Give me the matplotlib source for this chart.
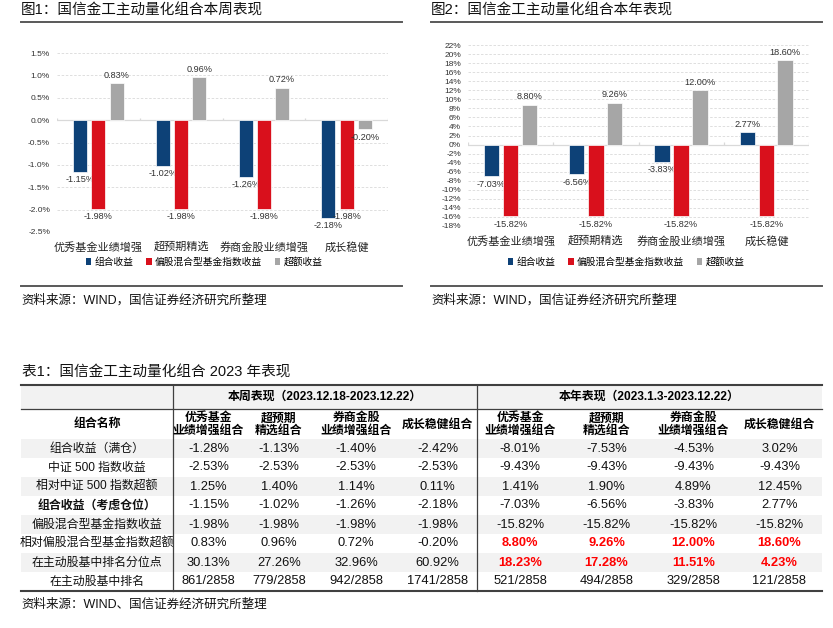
import numpy as np
import matplotlib
matplotlib.use("Agg")
import matplotlib.pyplot as plt
from matplotlib.patches import Patch, Rectangle
from matplotlib.lines import Line2D

plt.rcParams['font.family'] = ['Liberation Sans', 'Noto Sans CJK SC', 'DejaVu Sans']

# ---- data ----
cats = ['优秀基金业绩增强', '超预期精选', '券商金股业绩增强', '成长稳健']
series_names = ['组合收益', '偏股混合型基金指数收益', '超额收益']

week_port = [-1.15, -1.02, -1.26, -2.18]
week_index = [-1.98, -1.98, -1.98, -1.98]
week_excess = [0.83, 0.96, 0.72, -0.20]

year_port = [-7.03, -6.56, -3.83, 2.77]
year_index = [-15.82, -15.82, -15.82, -15.82]
year_excess = [8.80, 9.26, 12.00, 18.60]

row_names = ['组合收益（满仓）', '中证 500 指数收益', '相对中证 500 指数超额', '组合收益（考虑仓位）',
             '偏股混合型基金指数收益', '相对偏股混合型基金指数超额', '在主动股基中排名分位点', '在主动股基中排名']
col_names = ['优秀基金\n业绩增强组合', '超预期\n精选组合', '券商金股\n业绩增强组合', '成长稳健组合']

week_full = [-1.28, -1.13, -1.40, -2.42]
week_zz500 = [-2.53, -2.53, -2.53, -2.53]
week_rel500 = [1.25, 1.40, 1.14, 0.11]
week_pct = [30.13, 27.26, 32.96, 60.92]
week_rank = ['861/2858', '779/2858', '942/2858', '1741/2858']

year_full = [-8.01, -7.53, -4.53, 3.02]
year_zz500 = [-9.43, -9.43, -9.43, -9.43]
year_rel500 = [1.41, 1.90, 4.89, 12.45]
year_pct = [18.23, 17.28, 11.51, 4.23]
year_rank = ['521/2858', '494/2858', '329/2858', '121/2858']

colors = ['#0d4177', '#d9101c', '#a6a6a6']
W, H = 833, 628


def fx(px):
    return px / W


def fy(py):
    return 1 - py / H


fig = plt.figure(figsize=(8.33, 6.28), dpi=100)


def bar_chart(rect, ser, ylim, step, fmt, width, offs, legend_x):
    l, t, r, b = rect
    ax = fig.add_axes([fx(l), fy(b), fx(r) - fx(l), fy(t) - fy(b)])
    x = np.arange(len(cats))
    for vals, c, off, nm in zip(ser, colors, offs, series_names):
        bars = ax.bar(x + off, vals, width, color=c, edgecolor='white', linewidth=0.5, label=nm, zorder=3)
        ax.bar_label(bars, fmt='{:.2f}%', padding=2.5, fontsize=6.6, color='#333333')
    ax.set_xlim(-0.5, len(cats) - 0.5)
    ax.set_ylim(*ylim)
    ticks = np.arange(ylim[0], ylim[1] + step / 2, step)
    ax.set_yticks(ticks)
    ax.set_yticklabels([fmt.format(v) for v in ticks], fontsize=6, color='#333333')
    ax.set_xticks(x)
    ax.set_xticklabels(cats, fontsize=8, color='#222222')
    ax.tick_params(length=0)
    ax.tick_params(axis='y', pad=5)
    ax.tick_params(axis='x', pad=7)
    for s in ax.spines.values():
        s.set_visible(False)
    ax.grid(axis='y', linestyle=(0, (3, 2)), color='#d9d9d9', linewidth=0.6, zorder=0)
    ax.axhline(0, color='#d9d9d9', linewidth=0.9, zorder=2)
    tick_h = (ylim[1] - ylim[0]) * 0.012
    ax.vlines(np.arange(len(cats) + 1) - 0.5, 0, tick_h, color='#d9d9d9', linewidth=0.9, zorder=2)
    handles = [Patch(facecolor=c, edgecolor='none') for c in colors]
    fig.legend(handles, series_names, loc='center', bbox_to_anchor=(fx(legend_x), fy(262)),
               ncol=3, frameon=False, fontsize=7, handlelength=0.6, handleheight=0.6,
               handletextpad=0.3, columnspacing=1.3)
    return ax


ax1 = bar_chart((57, 53, 388, 232), [week_port, week_index, week_excess], (-2.5, 1.5), 0.5,
                '{:.1f}%', 0.17, (-0.22, 0.0, 0.22), 204)
ax2 = bar_chart((468, 45, 809, 226), [year_port, year_index, year_excess], (-18, 22), 2,
                '{:.0f}%', 0.18, (-0.224, 0.0, 0.22), 626)

# panel titles and rules
for x0, x1, title in [(21, 402, '图1：国信金工主动量化组合本周表现'), (431, 822, '图2：国信金工主动量化组合本年表现')]:
    fig.text(fx(x0), fy(11), title, fontsize=10.5, va='center', ha='left', color='#111111')
    fig.add_artist(Line2D([fx(x0), fx(x1)], [fy(22), fy(22)], color='#595959', linewidth=1.4))
    fig.add_artist(Line2D([fx(x0), fx(x1)], [fy(285.5), fy(285.5)], color='#595959', linewidth=1.4))
    fig.text(fx(x0), fy(300), '资料来源：WIND，国信证券经济研究所整理', fontsize=9, va='center', ha='left',
             color='#111111')

# ---- table ----
tab = fig.add_axes([0, 0, 1, 1])
tab.set_xlim(0, W)
tab.set_ylim(H, 0)
tab.axis('off')

t_left, t_mid1, t_mid2, t_right = 21, 173, 477, 822
t_top, h1_bot, h2_bot, row_h = 385, 409, 439, 19
week_edges = [173, 244, 314, 398, 477]
year_edges = [477, 563, 650, 737, 822]
shade = '#f2f2f2'

tab.text(22, 373, '表1：国信金工主动量化组合 2023 年表现', fontsize=10.5, va='center', ha='left', color='#111111')

tab.add_patch(Rectangle((t_left, t_top), t_right - t_left, h1_bot - t_top, facecolor=shade, edgecolor='none'))
for i in range(len(row_names)):
    if i % 2 == 0:
        tab.add_patch(Rectangle((t_left, h2_bot + i * row_h), t_right - t_left, row_h,
                                facecolor=shade, edgecolor='none'))

t_bot = h2_bot + len(row_names) * row_h
tab.plot([t_left, t_right], [t_top, t_top], color='#404040', linewidth=1.5)
tab.plot([t_left, t_right], [h1_bot, h1_bot], color='#404040', linewidth=0.9)
tab.plot([t_left, t_right], [t_bot, t_bot], color='#404040', linewidth=1.5)
for xv in (t_mid1, t_mid2):
    tab.plot([xv, xv], [t_top, t_bot], color='#404040', linewidth=0.9)

fs = 8.6
fs_num = 9.3
tab.text((t_mid1 + t_mid2) / 2, (t_top + h1_bot) / 2, '本周表现（2023.12.18-2023.12.22）',
         fontsize=fs, fontweight='bold', ha='center', va='center')
tab.text((t_mid2 + t_right) / 2, (t_top + h1_bot) / 2, '本年表现（2023.1.3-2023.12.22）',
         fontsize=fs, fontweight='bold', ha='center', va='center')
tab.text((t_left + t_mid1) / 2, (h1_bot + h2_bot) / 2, '组合名称', fontsize=fs, fontweight='bold',
         ha='center', va='center')
for edges in (week_edges, year_edges):
    for j, cn in enumerate(col_names):
        tab.text((edges[j] + edges[j + 1]) / 2, (h1_bot + h2_bot) / 2 + 0.5, cn, fontsize=fs,
                 fontweight='bold', ha='center', va='center', linespacing=1.05)


def pct(v):
    return '{:.2f}%'.format(v)


week_rows = [week_full, week_zz500, week_rel500, week_port, week_index, week_excess, week_pct]
year_rows = [year_full, year_zz500, year_rel500, year_port, year_index, year_excess, year_pct]
red_rows = [5, 6]

for i, name in enumerate(row_names):
    yc = h2_bot + i * row_h + row_h / 2
    tab.text((t_left + t_mid1) / 2, yc, name, fontsize=fs, ha='center', va='center',
             fontweight='bold' if i == 3 else 'normal', color='#111111')
    if i < len(week_rows):
        wv = [pct(v) for v in week_rows[i]]
        yv = [pct(v) for v in year_rows[i]]
    else:
        wv, yv = week_rank, year_rank
    for j in range(4):
        tab.text((week_edges[j] + week_edges[j + 1]) / 2, yc, wv[j], fontsize=fs_num, ha='center',
                 va='center', color='#111111')
        red = i in red_rows
        tab.text((year_edges[j] + year_edges[j + 1]) / 2, yc, yv[j], fontsize=fs_num, ha='center',
                 va='center', color='#ff0000' if red else '#111111', fontweight='bold' if red else 'normal')

tab.text(21, 605, '资料来源：WIND、国信证券经济研究所整理', fontsize=9, va='center', ha='left', color='#111111')

fig.savefig('out.png', dpi=100)
